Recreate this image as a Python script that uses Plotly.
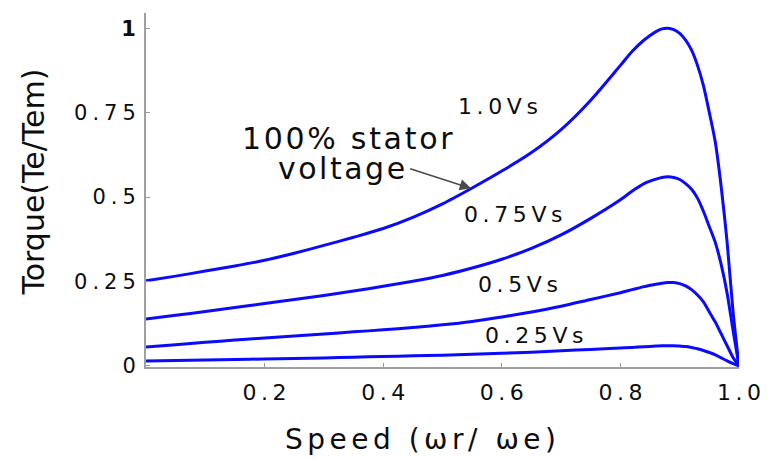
import plotly.graph_objects as go

# Normalised rotor speed (wr / we)
speed = [0, 0.05, 0.1, 0.15, 0.2, 0.25, 0.3, 0.35, 0.4, 0.45, 0.5, 0.55, 0.6, 0.65, 0.7, 0.75, 0.8,
         0.82, 0.84, 0.86, 0.87, 0.88, 0.89, 0.9, 0.91, 0.92, 0.93, 0.94, 0.95, 0.96, 0.97, 0.98,
         0.99, 1.0]

# Normalised torque (Te / Tem) for each stator voltage level
torque_100 = [0.252, 0.266, 0.281, 0.296, 0.313, 0.334, 0.357, 0.381, 0.407, 0.44, 0.48, 0.527,
              0.577, 0.632, 0.70, 0.787, 0.89,
              0.932, 0.965, 0.99, 0.998, 1.0, 0.996, 0.985, 0.965, 0.935, 0.89, 0.83, 0.75, 0.663,
              0.53, 0.366, 0.16, 0.0]
torque_075 = [0.139, 0.15, 0.161, 0.173, 0.185, 0.197, 0.209, 0.222, 0.236, 0.251, 0.268, 0.29,
              0.316, 0.348, 0.388, 0.437, 0.492,
              0.518, 0.54, 0.553, 0.558, 0.56, 0.558, 0.552, 0.54, 0.523, 0.497, 0.458, 0.412, 0.366,
              0.30, 0.215, 0.105, 0.0]
torque_050 = [0.056, 0.063, 0.07, 0.077, 0.083, 0.089, 0.095, 0.101, 0.107, 0.114, 0.122, 0.132,
              0.145, 0.16, 0.177, 0.197, 0.217,
              0.226, 0.235, 0.242, 0.245, 0.247, 0.247, 0.244, 0.237, 0.226, 0.21, 0.19, 0.16, 0.13,
              0.095, 0.06, 0.025, 0.0]
torque_025 = [0.015, 0.016, 0.018, 0.019, 0.021, 0.022, 0.024, 0.026, 0.028, 0.03, 0.032, 0.035,
              0.038, 0.041, 0.045, 0.049, 0.053,
              0.055, 0.057, 0.059, 0.06, 0.06, 0.06, 0.059, 0.058, 0.055, 0.051, 0.046, 0.04, 0.033,
              0.024, 0.015, 0.007, 0.0]

series = [torque_100, torque_075, torque_050, torque_025]

# Curve labels: text, x, y
curve_labels = ["1.0Vs", "0.75Vs", "0.5Vs", "0.25Vs"]
label_x = [0.5933, 0.62, 0.627, 0.655]
label_y = [0.767, 0.448, 0.240, 0.089]

x_ticks = [0.2, 0.4, 0.6, 0.8, 1.0]
x_tick_text = ["0.2", "0.4", "0.6", "0.8", "1.0"]
y_ticks = [0, 0.25, 0.5, 0.75, 1]
y_tick_text = ["0", "0.25", "0.5", "0.75", "1"]

FONT = "DejaVu Sans"
BLUE = "#0a0aff"
TEXT = "#0d0d0d"


def spaced(s, px):
    # widen the glyph spacing, leaving no trailing gap after the last character
    if len(s) < 2:
        return s
    return f"<span style='letter-spacing:{px}px'>{s[:-1]}</span>{s[-1]}"


fig = go.Figure()
for ys in series:
    fig.add_trace(go.Scatter(
        x=speed, y=ys, mode="lines",
        line=dict(color=BLUE, width=3, shape="spline", smoothing=0.8),
        hoverinfo="skip", showlegend=False,
    ))

annotations = []
for t, lx, ly in zip(curve_labels, label_x, label_y):
    annotations.append(dict(
        x=lx, y=ly, xref="x", yref="y", text=spaced(t, 4.6), showarrow=False,
        font=dict(family=FONT, size=22, color=TEXT), xanchor="center", yanchor="middle",
    ))

# Callout for the full-voltage curve
annotations.append(dict(
    x=0.34, y=0.672, xref="x", yref="y", text=spaced("100% stator", 2.7), showarrow=False,
    font=dict(family=FONT, size=30, color=TEXT), xanchor="center", yanchor="middle",
))
annotations.append(dict(
    x=0.33, y=0.584, xref="x", yref="y", text=spaced("voltage", 2.5), showarrow=False,
    font=dict(family=FONT, size=30, color=TEXT), xanchor="center", yanchor="middle",
))
annotations.append(dict(
    x=0.548, y=0.526, xref="x", yref="y", ax=0.443, ay=0.585, axref="x", ayref="y",
    text="", showarrow=True, arrowhead=2, arrowsize=1.4, arrowwidth=1.6,
    arrowcolor="#4a4a4a", standoff=0,
))

# Axis titles
annotations.append(dict(
    x=0.4633, y=-0.206, xref="paper", yref="paper", text=spaced("Speed (ωr/ ωe)", 4.5),
    showarrow=False, font=dict(family=FONT, size=28, color=TEXT),
    xanchor="center", yanchor="middle",
))
annotations.append(dict(
    x=-0.19, y=0.522, xref="paper", yref="paper", text="Torque(Te/Tem)",
    showarrow=False, textangle=-90, font=dict(family=FONT, size=30, color=TEXT),
    xanchor="center", yanchor="middle",
))

y_text = ["<b>1</b>" if t == "1" else spaced(t, 5) for t in y_tick_text]

fig.update_layout(
    width=773, height=459,
    margin=dict(l=146, r=27, t=13, b=92),
    paper_bgcolor="white", plot_bgcolor="white",
    annotations=annotations,
    xaxis=dict(
        range=[0, 1.0], showgrid=False, zeroline=False,
        showline=True, linecolor="#a0a0a0", linewidth=2,
        ticks="inside", ticklen=4, tickcolor="#999999", tickwidth=1,
        tickvals=x_ticks, ticktext=[spaced(t, 4.5) for t in x_tick_text],
        tickfont=dict(family=FONT, size=22, color=TEXT),
        ticklabelstandoff=5,
    ),
    yaxis=dict(
        range=[-0.003, 1.045], showgrid=False, zeroline=False,
        showline=True, linecolor="#a0a0a0", linewidth=2,
        ticks="inside", ticklen=4, tickcolor="#999999", tickwidth=1,
        tickvals=y_ticks, ticktext=y_text,
        tickfont=dict(family=FONT, size=21, color=TEXT),
        ticklabelstandoff=4,
    ),
)

fig.write_html("out.html")
